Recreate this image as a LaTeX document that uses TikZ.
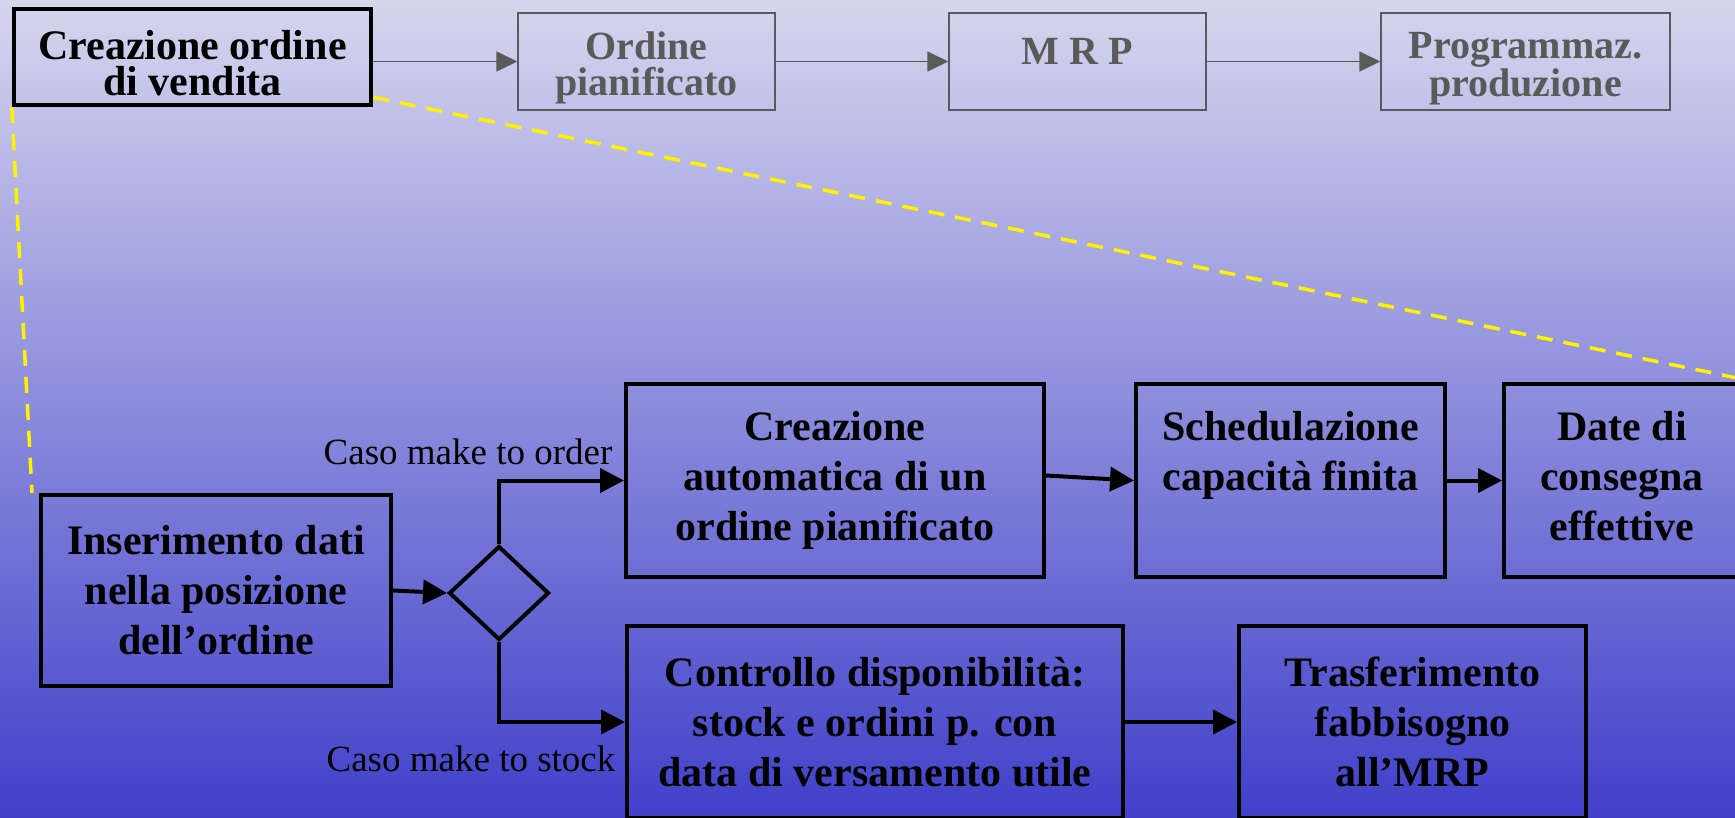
\documentclass[tikz,border=0pt]{standalone}
\usepackage{fontspec}
\setmainfont{Liberation Serif}
\usepackage{xcolor}
\definecolor{bgtop}{RGB}{214,214,238}
\definecolor{bgbottom}{RGB}{64,64,202}
\definecolor{mapgray}{RGB}{90,90,90}
\newcommand{\topstrut}{\rule{0pt}{41pt}}
\newcommand{\lowstrut}{\rule[-9pt]{0pt}{9pt}}
\usepackage{tikz}
\usetikzlibrary{
    shapes.geometric,
    arrows.meta
}

\begin{document}
\begin{tikzpicture}[x=1pt,y=-1pt,
    topbox/.style={draw=mapgray,line width=1.5pt,text=mapgray,align=center,inner sep=0pt,
        minimum height=97pt,font=\fontsize{40}{36}\selectfont\bfseries},
    procbox/.style={draw=black,line width=4pt,align=center,inner sep=0pt,
        font=\fontsize{42}{50}\selectfont\bfseries},
    flow/.style={line width=4pt,-{Triangle[length=24pt,width=24pt]}},
    topflow/.style={draw=mapgray,line width=1.8pt,-{Triangle[length=21pt,width=20pt]}},
    zoomline/.style={draw=yellow,line width=3.5pt,dash pattern=on 16pt off 11pt},
    casetext/.style={font=\fontsize{37}{40}\selectfont}]
    \useasboundingbox (0,0) rectangle (1735,817);
    \fill[top color=bgtop,bottom color=bgbottom] (0,0) rectangle (1735,817);

    \node[topbox,draw=black,text=black,line width=4.5pt,minimum width=357pt,minimum height=96pt,
        font=\fontsize{42}{36}\selectfont\bfseries] (order) at (192.5,57) {\topstrut Creazione ordine\\di vendita};
    \node[topbox,minimum width=257pt] (planned) at (646.5,61.5) {\topstrut Ordine\\pianificato};
    \node[topbox,minimum width=257pt] (mrp) at (1077.5,61.5) {\topstrut M R P\\~};
    \node[topbox,minimum width=289pt] (prodplan) at (1525.5,61.5) {\topstrut Programmaz.\\produzione};

    \node[procbox,minimum width=350pt,minimum height=191pt] (entry) at (216,590.5) {Inserimento dati\\nella posizione\\dell'ordine};
    \node[draw,diamond,line width=4pt,minimum width=100pt,minimum height=94pt,inner sep=0pt] (choice) at (499,593) {};
    \node[procbox,minimum width=418pt,minimum height=193pt] (autoplan) at (835,480.5) {Creazione\\automatica di un\\ordine pianificato};
    \node[procbox,minimum width=309pt,minimum height=193pt] (sched) at (1290.5,480.5) {Schedulazione\\capacità finita\\\lowstrut};
    \node[procbox,minimum width=236pt,minimum height=193pt] (dates) at (1622,480.5) {Date di\\consegna\\effettive\lowstrut};
    \node[procbox,minimum width=496pt,minimum height=192pt] (check) at (875,722) {Controllo disponibilità:\\stock e ordini p. con\\data di versamento utile};
    \node[procbox,minimum width=347pt,minimum height=192pt] (transfer) at (1412.5,722) {Trasferimento\\fabbisogno\\all'MRP};

    \node[casetext] (mto) at (468,452) {Caso make to order};
    \node[casetext] (mts) at (471,759) {Caso make to stock};

    \coordinate (zoomleft) at (32,493);
    \coordinate (zoomright) at (1737,378);
    \draw[zoomline] (order.south west) -- (zoomleft);
    \draw[zoomline] ([yshift=10pt]order.south east) -- (zoomright);

    \draw[topflow] (order.east |- planned.west) -- (planned.west);
    \draw[topflow] (planned.east) -- (mrp.west);
    \draw[topflow] (mrp.east) -- (prodplan.west);

    \draw[flow] (entry.east) -- (choice.west);
    \draw[flow] (choice.north) |- (autoplan.west);
    \draw[flow] (choice.south) |- (check.west);
    \draw[flow] ([yshift=5pt]autoplan.east) -- (sched.west);
    \draw[flow] (sched.east) -- (dates.west);
    \draw[flow] (check.east) -- (transfer.west);
\end{tikzpicture}
\end{document}
